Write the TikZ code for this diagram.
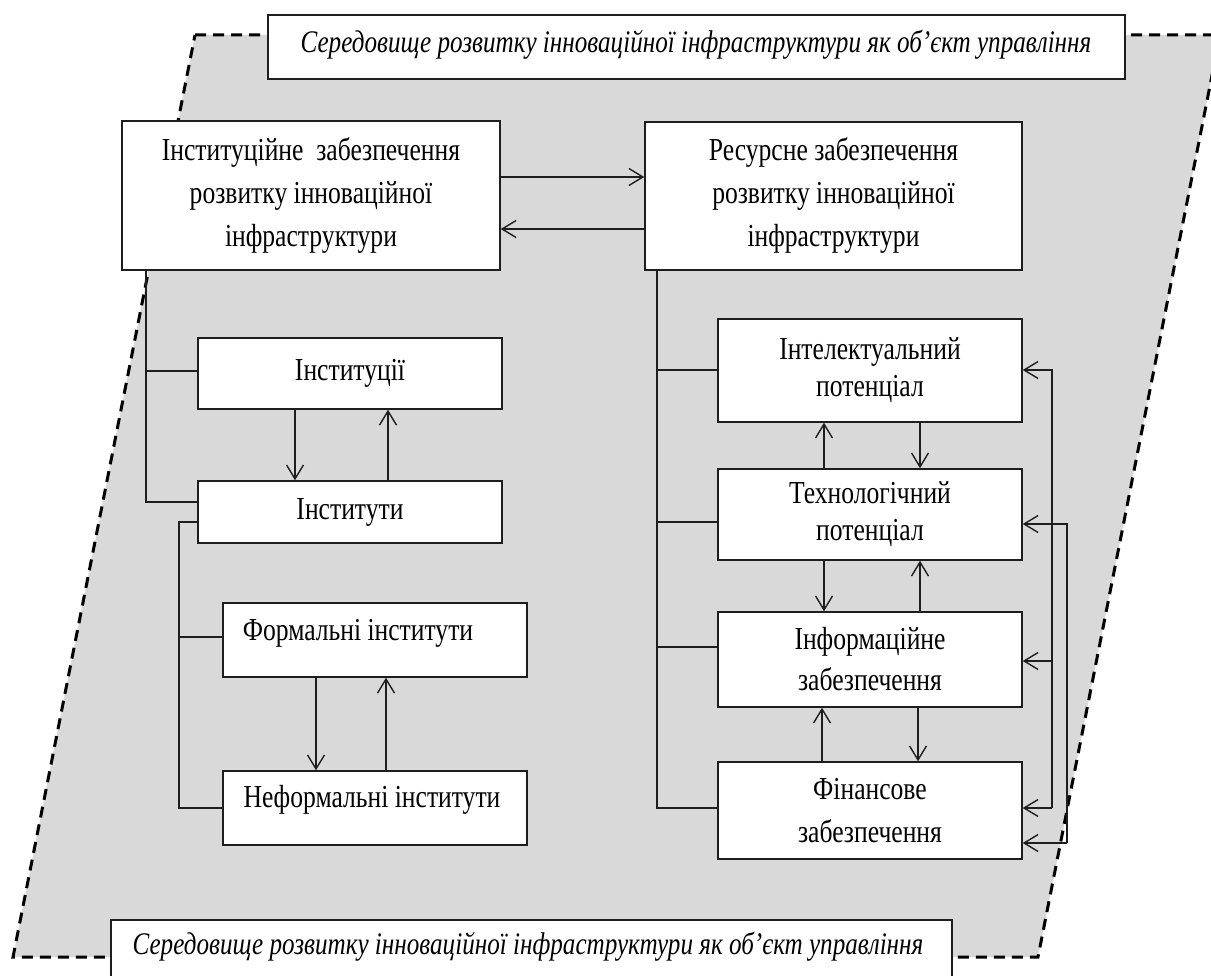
\documentclass[tikz,border=0pt]{standalone}
\usepackage{fontspec}
\setmainfont{Liberation Serif}[FakeStretch=0.80]
\usetikzlibrary{arrows.meta}
\definecolor{envgray}{RGB}{217,217,217}
\definecolor{inkc}{RGB}{30,30,30}
\newcommand{\boxfont}[1]{\fontsize{32pt}{#1}\selectfont}
\tikzset{
  box/.style={draw=inkc, fill=white, line width=1.5pt, inner sep=0pt, align=center,
              font=\boxfont{42pt}, text=black},
  envlabel/.style={draw=inkc, fill=white, line width=1.5pt, inner sep=0pt},
  envtext/.style={inner sep=0pt, font=\fontsize{31.4pt}{36pt}\selectfont\itshape, text=black},
  lbl/.style={inner sep=0pt, font=\boxfont{42pt}, text=black},
  link/.style={draw=inkc, line width=1.5pt},
  arr/.style={link, -{Straight Barb[length=14pt,width=17pt,line width=1.4pt]}},
  envedge/.style={draw=black, line width=3pt, dash pattern=on 11pt off 7pt}
}
\begin{document}
\begin{tikzpicture}[x=1pt,y=-1pt]
\clip (0,0) rectangle (1211,976);
\fill[white] (0,0) rectangle (1211,976);

% environment: dashed parallelogram
\fill[envgray] (195,35) -- (1220,35) -- (1038,957) -- (13,957) -- cycle;
\draw[envedge] (195,35) -- (1220,35) -- (1038,957) -- (13,957) -- cycle;

% environment labels
\node[envlabel, minimum width=857pt, minimum height=64pt] (envtop) at (696.5,47) {};
\node[envtext] (envtoptext) at (696,45)
  {Середовище розвитку інноваційної інфраструктури як об’єкт управління};
\node[envlabel, minimum width=841pt, minimum height=66pt] (envbot) at (531.5,953) {};
\node[envtext] (envbottext) at (528,947)
  {Середовище розвитку інноваційної інфраструктури як об’єкт управління};

% upper blocks
\node[box, minimum width=378pt, minimum height=149pt, font=\boxfont{43pt}] (A) at (311,195.5)
  {Інституційне \ забезпечення\\розвитку інноваційної\\інфраструктури};
\node[box, minimum width=377pt, minimum height=148pt, font=\boxfont{43pt}] (B) at (833.5,196)
  {Ресурсне забезпечення\\розвитку інноваційної\\інфраструктури};

% institutional branch
\node[box, minimum width=304pt, minimum height=71pt] (C) at (350,373.5) {Інституції};
\node[box, minimum width=304pt, minimum height=62pt] (D) at (350,512) {Інститути};
\node[box, minimum width=304pt, minimum height=74pt] (E) at (375,640) {};
\node[lbl] (Et) at (358,633) {Формальні інститути};
\node[box, minimum width=304pt, minimum height=74pt] (F) at (375,808) {};
\node[lbl] (Ft) at (372,800) {Неформальні інститути};

% resource branch
\node[box, minimum width=304pt, minimum height=103pt, font=\boxfont{37pt}] (G) at (870,370.5)
  {Інтелектуальний\\потенціал};
\node[box, minimum width=304pt, minimum height=91pt, font=\boxfont{37pt}] (H) at (870,514.5)
  {Технологічний\\потенціал};
\node[box, minimum width=304pt, minimum height=95pt, font=\boxfont{41pt}] (I) at (870,659.5)
  {Інформаційне\\забезпечення};
\node[box, minimum width=304pt, minimum height=97pt, font=\boxfont{43pt}] (J) at (870,810.5)
  {Фінансове\\забезпечення};

% trunk positions
\coordinate (tl) at (146,0);
\coordinate (t2) at (179,0);
\coordinate (tr) at (657,0);
\coordinate (fbi) at (1052,0);
\coordinate (fbo) at (1067,0);

% links between upper blocks
\draw[arr] ([yshift=18.5pt]A.east) -- ([yshift=18.5pt]A.east -| B.west);
\draw[arr] ([yshift=-33.5pt]A.east -| B.west) -- ([yshift=-33.5pt]A.east);

% institutional tree
\draw[link] (A.south -| tl) |- ([yshift=10pt]D.west);
\draw[link] ([yshift=2.5pt]C.west -| tl) -- ([yshift=2.5pt]C.west);
\draw[arr] ([xshift=-55pt]C.south) -- ([xshift=-55pt]D.north);
\draw[arr] ([xshift=38pt]D.north) -- ([xshift=38pt]C.south);
\draw[link] ([yshift=-10pt]D.west) -| (t2 |- F.west) -- (F.west);
\draw[link] ([yshift=3pt]E.west -| t2) -- ([yshift=3pt]E.west);
\draw[arr] ([xshift=-59pt]E.south) -- ([xshift=-59pt]F.north);
\draw[arr] ([xshift=11pt]F.north) -- ([xshift=11pt]E.south);

% resource tree
\draw[link] (B.south -| tr) |- ([yshift=2.5pt]J.west);
\draw[link] ([yshift=0.5pt]G.west -| tr) -- ([yshift=0.5pt]G.west);
\draw[link] ([yshift=-7.5pt]H.west -| tr) -- ([yshift=-7.5pt]H.west);
\draw[link] ([yshift=12.5pt]I.west -| tr) -- ([yshift=12.5pt]I.west);
\draw[arr] ([xshift=-46pt]H.north) -- ([xshift=-46pt]G.south);
\draw[arr] ([xshift=50pt]G.south) -- ([xshift=50pt]H.north);
\draw[arr] ([xshift=-46pt]H.south) -- ([xshift=-46pt]I.north);
\draw[arr] ([xshift=50pt]I.north) -- ([xshift=50pt]H.south);
\draw[arr] ([xshift=-48pt]J.north) -- ([xshift=-48pt]I.south);
\draw[arr] ([xshift=48pt]I.south) -- ([xshift=48pt]J.north);

% feedback lines on the right
\draw[arr] ([yshift=2.5pt]J.east -| fbi) |- ([yshift=0.5pt]G.east);
\draw[arr] ([yshift=2.5pt]J.east -| fbi) -- ([yshift=2.5pt]J.east);
\draw[arr] ([yshift=-1.5pt]I.east -| fbi) -- ([yshift=-1.5pt]I.east);
\draw[arr] ([yshift=-32.5pt]J.east -| fbo) |- ([yshift=-9.5pt]H.east);
\draw[arr] ([yshift=-32.5pt]J.east -| fbo) -- ([yshift=-32.5pt]J.east);
\end{tikzpicture}
\end{document}
